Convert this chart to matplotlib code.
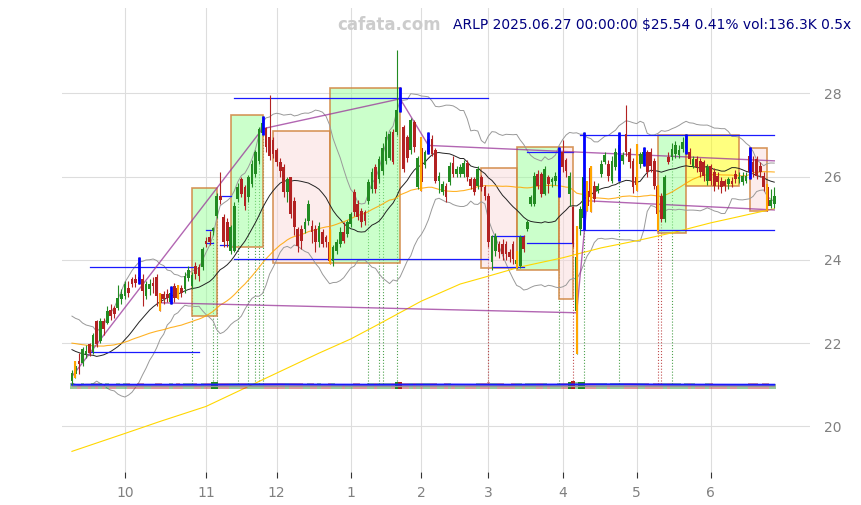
import numpy as np
import pandas as pd
import matplotlib
matplotlib.use("Agg")
import matplotlib.pyplot as plt
from matplotlib.patches import Rectangle

# daily bars ARLP, 2024-09-10 .. 2025-06-27 (x = trading day index)
opens = [21.08, 21.25, 21.57, 21.53, 21.73, 21.97, 21.79, 22.53, 22.05, 22.53,
         22.49, 22.79, 22.84, 22.85, 23.05, 23.13, 23.33, 23.53, 23.55, 23.60,
         23.53, 23.13, 23.29, 23.45, 23.59, 23.19, 23.17, 23.19, 23.00, 23.37,
         23.33, 23.33, 23.29, 23.57, 23.37, 23.86, 23.82, 23.82, 24.46, 24.55,
         24.70, 25.06, 25.54, 25.02, 24.90, 24.22, 24.22, 25.46, 25.94, 25.74,
         25.50, 25.82, 26.06, 26.38, 27.05, 27.17, 26.95, 26.87, 26.63, 26.35,
         26.22, 25.62, 25.98, 25.42, 24.74, 24.74, 24.74, 24.94, 24.82, 24.74,
         24.42, 24.66, 24.54, 24.42, 23.97, 24.22, 24.38, 24.66, 24.62, 24.86,
         25.62, 25.34, 25.18, 25.14, 25.42, 25.70, 26.22, 25.94, 26.14, 26.38,
         26.46, 27.07, 27.07, 27.85, 27.19, 26.95, 26.63, 27.31, 25.74, 26.70,
         26.27, 26.60, 26.91, 26.63, 25.90, 25.62, 25.78, 25.86, 26.34, 26.06,
         26.06, 26.06, 26.34, 25.94, 25.94, 25.78, 26.00, 25.74, 25.54, 23.94,
         24.22, 24.38, 24.38, 24.38, 24.18, 24.38, 23.90, 23.86, 24.54, 24.74,
         25.34, 25.34, 26.06, 26.06, 25.58, 25.98, 25.86, 25.90, 25.70, 26.59,
         26.39, 25.58, 25.26, 22.77, 24.74, 25.00, 25.66, 26.20, 25.78, 25.66,
         26.06, 26.35, 26.30, 25.90, 26.22, 26.40, 26.38, 27.03, 26.59, 26.38,
         26.00, 26.30, 26.30, 26.59, 26.59, 26.38, 25.78, 25.54, 24.98, 26.47,
         26.47, 26.55, 26.51, 26.67, 26.70, 26.59, 26.26, 26.43, 26.38, 26.35,
         25.90, 26.26, 26.10, 26.02, 25.90, 25.90, 25.82, 25.90, 26.06, 25.94,
         25.86, 25.90, 26.50, 26.35, 26.43, 26.26, 26.02, 25.74, 25.30, 25.35]
highs = [21.35, 21.57, 21.77, 21.90, 21.95, 22.00, 22.25, 22.55, 22.60, 22.60,
         22.90, 22.95, 22.90, 23.40, 23.30, 23.50, 23.50, 23.60, 23.65, 24.06,
         23.65, 23.50, 23.55, 23.60, 23.65, 23.21, 23.25, 23.30, 23.37, 23.45,
         23.40, 23.40, 23.70, 23.85, 23.70, 23.95, 23.90, 24.30, 24.55, 24.70,
         24.80, 25.60, 26.10, 25.10, 25.00, 24.85, 25.40, 25.85, 26.00, 25.80,
         26.05, 26.40, 26.65, 27.20, 27.45, 27.20, 27.95, 26.95, 26.70, 26.45,
         26.30, 26.00, 26.00, 25.50, 24.80, 24.85, 25.00, 25.45, 24.95, 24.85,
         24.90, 24.75, 24.60, 24.75, 24.35, 24.50, 24.80, 24.90, 24.95, 25.15,
         25.70, 25.45, 25.25, 25.20, 25.95, 26.20, 26.30, 26.50, 26.80, 27.10,
         27.10, 27.15, 29.04, 28.15, 27.25, 27.00, 27.40, 27.35, 26.50, 26.95,
         26.65, 27.07, 27.00, 26.70, 26.10, 25.90, 25.85, 26.35, 26.50, 26.25,
         26.30, 26.40, 26.40, 26.00, 26.00, 26.25, 26.05, 25.80, 25.60, 24.60,
         24.65, 24.45, 24.50, 24.45, 24.25, 24.45, 24.22, 24.60, 24.60, 24.95,
         25.55, 26.10, 26.15, 26.10, 26.25, 26.05, 26.00, 26.10, 26.71, 26.87,
         26.45, 26.10, 25.30, 24.82, 25.30, 27.07, 25.90, 26.26, 25.90, 25.85,
         26.40, 26.60, 26.40, 26.50, 26.70, 27.07, 26.60, 27.71, 26.70, 26.45,
         26.79, 26.60, 26.71, 26.65, 26.70, 26.45, 25.80, 25.60, 26.05, 26.60,
         26.80, 26.85, 26.75, 26.95, 27.03, 26.70, 26.50, 26.50, 26.45, 26.40,
         26.30, 26.30, 26.20, 26.10, 26.00, 25.95, 26.00, 26.00, 26.15, 26.10,
         26.10, 26.10, 26.71, 26.50, 26.50, 26.35, 26.10, 25.82, 25.70, 25.75]
lows = [21.00, 21.16, 21.25, 21.45, 21.65, 21.70, 21.75, 21.90, 22.00, 22.20,
        22.45, 22.55, 22.60, 22.80, 22.95, 23.05, 23.10, 23.35, 23.35, 23.41,
        22.90, 23.05, 23.15, 23.20, 22.90, 22.77, 22.95, 23.00, 22.93, 23.00,
        23.05, 23.10, 23.20, 23.50, 23.30, 23.55, 23.50, 23.75, 24.30, 24.35,
        24.60, 25.00, 25.35, 24.30, 24.30, 24.15, 24.20, 25.40, 25.50, 25.20,
        25.40, 25.75, 26.00, 26.30, 27.00, 26.60, 26.40, 26.45, 26.25, 26.00,
        25.50, 25.40, 25.00, 24.60, 24.20, 24.26, 24.65, 24.85, 24.40, 24.20,
        24.30, 24.30, 24.30, 23.90, 23.85, 24.15, 24.30, 24.40, 24.55, 24.80,
        25.05, 24.95, 24.80, 24.85, 25.35, 25.60, 25.60, 25.85, 26.05, 26.30,
        26.40, 26.30, 27.00, 27.55, 26.10, 26.35, 26.55, 26.60, 25.70, 25.66,
        26.20, 26.55, 26.50, 25.85, 25.60, 25.55, 25.40, 25.80, 26.00, 26.00,
        26.00, 26.00, 25.90, 25.70, 25.55, 25.70, 25.65, 25.45, 24.30, 23.75,
        24.10, 24.05, 24.00, 24.00, 23.95, 23.90, 23.80, 23.80, 24.20, 24.70,
        25.30, 25.30, 25.70, 25.50, 25.55, 25.60, 25.75, 25.80, 25.50, 26.10,
        26.00, 25.30, 24.30, 21.73, 24.60, 24.72, 25.18, 25.14, 25.40, 25.60,
        26.00, 26.30, 25.90, 25.85, 26.15, 25.90, 26.30, 26.50, 26.20, 25.60,
        25.66, 26.20, 26.26, 26.00, 26.10, 25.70, 24.70, 24.90, 24.90, 26.30,
        26.40, 26.45, 26.45, 26.60, 26.55, 26.30, 26.20, 26.10, 26.00, 25.90,
        25.80, 25.80, 25.65, 25.70, 25.60, 25.65, 25.70, 25.75, 25.85, 25.85,
        25.80, 25.85, 25.94, 26.00, 25.95, 26.00, 25.65, 25.18, 25.25, 25.25]
closes = [21.29, 21.45, 21.49, 21.85, 21.82, 21.77, 22.19, 21.97, 22.53, 22.33,
          22.77, 22.65, 22.71, 23.09, 23.17, 23.41, 23.21, 23.41, 23.45, 23.50,
          23.25, 23.41, 23.41, 23.37, 23.13, 22.97, 23.05, 23.09, 23.20, 23.09,
          23.09, 23.21, 23.61, 23.75, 23.64, 23.65, 23.62, 24.26, 24.38, 24.44,
          24.76, 25.54, 25.44, 24.42, 24.46, 24.78, 25.30, 25.74, 25.58, 25.30,
          25.98, 26.30, 26.59, 27.15, 27.30, 26.71, 26.50, 26.55, 26.35, 26.14,
          25.62, 25.94, 25.10, 24.78, 24.34, 24.46, 24.90, 25.34, 24.66, 24.42,
          24.82, 24.38, 24.42, 23.97, 24.30, 24.42, 24.66, 24.46, 24.90, 25.10,
          25.14, 25.02, 24.90, 24.94, 25.86, 26.10, 25.70, 26.42, 26.70, 26.95,
          27.03, 26.35, 27.60, 27.75, 26.19, 26.46, 27.35, 26.71, 26.46, 25.86,
          26.59, 26.90, 26.55, 25.90, 26.02, 25.82, 25.50, 26.26, 26.06, 26.18,
          26.22, 26.34, 25.98, 25.78, 25.62, 26.18, 25.74, 25.54, 24.42, 24.58,
          24.58, 24.18, 24.14, 24.14, 24.06, 24.02, 24.00, 24.54, 24.26, 24.90,
          25.50, 26.02, 25.78, 25.58, 26.18, 25.82, 25.94, 26.02, 26.50, 26.22,
          26.14, 26.02, 24.38, 24.06, 25.22, 26.00, 25.30, 25.50, 25.46, 25.78,
          26.30, 26.51, 26.02, 26.38, 26.59, 26.75, 26.51, 26.59, 26.35, 25.74,
          25.80, 26.55, 26.60, 26.10, 26.26, 25.78, 25.10, 24.98, 25.98, 26.35,
          26.67, 26.75, 26.63, 26.83, 26.90, 26.43, 26.43, 26.22, 26.10, 26.02,
          26.22, 25.90, 25.78, 25.86, 25.74, 25.78, 25.94, 25.82, 25.94, 26.00,
          26.02, 26.02, 26.10, 26.10, 26.02, 26.10, 25.74, 25.30, 25.44, 25.54]
volumes = [180, 160, 150, 200, 170, 150, 210, 190, 230, 170, 200, 160, 150, 190, 170, 210, 180, 160, 150, 220,
           200, 170, 160, 150, 210, 230, 160, 150, 180, 170, 200, 150, 180, 190, 260, 200, 170, 240, 230, 190,
           420, 450, 260, 250, 200, 190, 230, 260, 200, 190, 270, 220, 260, 250, 280, 230, 250, 200, 190, 180,
           230, 180, 250, 240, 210, 190, 170, 200, 180, 170, 190, 160, 150, 260, 180, 160, 170, 150, 140, 170,
           220, 180, 170, 160, 250, 200, 210, 260, 250, 230, 220, 210, 440, 410, 260, 220, 200, 210, 190, 240,
           200, 190, 180, 210, 170, 160, 180, 190, 170, 150, 150, 160, 170, 160, 170, 180, 190, 200, 320, 260,
           210, 180, 190, 170, 160, 180, 200, 210, 170, 190, 200, 230, 190, 180, 200, 170, 160, 170, 290, 210,
           220, 430, 470, 380, 430, 460, 280, 250, 220, 200, 190, 180, 170, 200, 190, 260, 180, 220, 200, 190,
           240, 200, 180, 190, 170, 200, 300, 290, 230, 200, 260, 190, 180, 170, 200, 190, 180, 170, 160, 170,
           180, 190, 170, 160, 170, 150, 160, 150, 170, 160, 150, 160, 200, 190, 180, 170, 190, 200, 150, 136]
# closes before the first shown bar (only feed the moving averages)
warmup_closes = [22.0, 22.2, 22.4, 22.3, 22.5, 22.2, 22.4, 22.6, 22.3, 22.1,
                 22.4, 22.2, 22.0, 22.3, 22.1, 21.8, 21.6, 21.9, 22.1, 21.7,
                 21.8, 22.0, 22.2, 21.9, 22.0, 22.1, 21.8, 22.0, 22.2, 22.0,
                 22.3, 22.1, 22.4, 22.2, 22.0, 22.3, 22.5, 22.2, 21.9, 22.0,
                 21.8, 21.6, 21.9, 21.7, 21.5, 21.4, 21.3, 21.2, 21.3]
# long moving average
ma200_idx = [0, 15, 25, 38, 50, 58, 70, 79, 87, 99, 110, 118, 127, 139, 150, 160, 170, 181, 189, 199]
ma200_val = [19.40, 19.83, 20.12, 20.48, 20.96, 21.28, 21.76, 22.10, 22.46, 23.01,
             23.42, 23.61, 23.83, 24.05, 24.29, 24.46, 24.65, 24.89, 25.04, 25.23]

month_idx = [15, 38, 58, 79, 99, 118, 139, 160, 181]
month_labels = ['10', '11', '12', '1', '2', '3', '4', '5', '6']

box_start = [34, 45, 57, 73, 116, 126, 138, 166, 174, 192]
box_end = [41, 54, 73, 93, 126, 138, 142, 174, 189, 197]
box_low = [22.65, 24.31, 23.92, 23.92, 23.80, 23.75, 23.05, 24.64, 25.78, 25.18]
box_high = [25.73, 27.47, 27.09, 28.14, 26.21, 26.71, 26.71, 27.01, 27.01, 26.69]
box_kind = ['up', 'up', 'down', 'up', 'down', 'up', 'down', 'up', 'flat', 'down']

level_start = [5, 5, 38, 38, 42, 42, 46, 46, 119, 119, 129, 129, 144, 144]
level_end = [36, 35, 40, 40, 45, 45, 118, 118, 128, 128, 142, 142, 199, 199]
level_price = [21.78, 23.83, 24.72, 24.40, 25.53, 24.36, 27.88, 24.03,
               24.58, 23.83, 24.40, 26.60, 27.01, 24.72]

trend_i0 = [0, 54, 93, 101, 25, 143, 146]
trend_p0 = [21.20, 27.15, 27.87, 26.75, 22.97, 22.73, 25.42]
trend_i1 = [54, 93, 101, 199, 143, 146, 199]
trend_p1 = [27.15, 27.87, 26.75, 26.38, 22.73, 25.42, 25.20]

pivot_idx = [19, 28, 54, 93, 101, 138, 145, 155, 162, 174, 192]
gap_idx = [1, 25, 30, 73, 99, 126, 143, 146, 147, 160, 166, 197]
spike_idx = [34, 40, 41, 47, 50, 52, 53, 54, 84, 87, 88, 92, 118, 138, 142, 145, 155, 166, 167, 170]

o = np.array(opens)
h = np.array(highs)
l = np.array(lows)
c = np.array(closes)
v = np.array(volumes, dtype=float)
idx = np.arange(len(c))
up = c >= o
GREEN = '#228b22'
RED = '#b22222'
col = np.where(up, GREEN, RED)

full = pd.Series(warmup_closes + closes)
nw = len(warmup_closes)
mid = full.rolling(20).mean().values[nw:]
sd = full.rolling(20).std(ddof=0).values[nw:]
ma50 = full.rolling(50).mean().values[nw:]

fig = plt.figure(figsize=(8.62, 5.05), dpi=100)
ax = fig.add_axes([0.072, 0.065, 0.868, 0.919])
ax.set_xlim(-2.8, 209.2)
ax.set_ylim(18.9, 30.05)

# signal bars: dotted drop lines down to the volume strip
vol_base = 20.91
for i in spike_idx:
    ax.vlines(i, vol_base + 0.1, l[i], colors=col[i], linestyles=':', lw=0.8, alpha=0.8, zorder=1)

fills = {'up': (0.6, 1.0, 0.6, 0.5), 'down': (0.98, 0.86, 0.86, 0.5), 'flat': (1.0, 1.0, 0.0, 0.5)}
for s, e, lo, hi, k in zip(box_start, box_end, box_low, box_high, box_kind):
    ax.add_patch(Rectangle((s, lo), e - s, hi - lo, facecolor=fills[k],
                           edgecolor=(0.82, 0.52, 0.25, 0.85), lw=1.2, zorder=2))

# moving averages / bands
ax.plot(idx, mid + 2 * sd, color='#999999', lw=0.7, zorder=3)
ax.plot(idx, mid - 2 * sd, color='#999999', lw=0.7, zorder=3)
ax.plot(idx, mid, color='#222222', lw=0.7, zorder=3)
ax.plot(idx, ma50, color='#ffa500', lw=0.8, alpha=0.85, zorder=3)
ax.plot(ma200_idx, ma200_val, color='#ffd700', lw=0.8, zorder=3)

# volume strip
vmax = v.max()
vh = 0.09 + 0.08 * v / vmax
light = v < 400
vma = pd.Series(v).rolling(20, min_periods=1).mean().values
ax.bar(idx[light], vh[light], bottom=vol_base, width=1.0, color=col[light], alpha=0.45, zorder=3)
ax.bar(idx[~light], vh[~light], bottom=vol_base, width=1.0, color=col[~light], zorder=3)
ax.plot(idx, np.full(len(idx), vol_base + 0.055), color='#999999', lw=0.9, zorder=4)
ax.plot(idx, vol_base + 0.075 + 0.02 * vma / vma.mean(), color='#1a1aff', lw=1.4, zorder=4)

# levels and trend lines
for s, e, p in zip(level_start, level_end, level_price):
    ax.plot([s, e], [p, p], color='#1a1aff', lw=0.9, zorder=4)
for a0, b0, a1, b1 in zip(trend_i0, trend_p0, trend_i1, trend_p1):
    ax.plot([a0, a1], [b0, b1], color='#993399', lw=1.0, alpha=0.75, zorder=4)

# candles
ax.vlines(idx, l, h, colors=col, lw=0.8, zorder=5)
body = np.maximum(np.abs(c - o), 0.02)
ax.bar(idx, body, bottom=np.minimum(o, c), width=0.78, color=col, zorder=6)

ax.vlines(gap_idx, l[gap_idx], h[gap_idx], colors='#ffa500', lw=1.5, zorder=7)
ax.vlines(pivot_idx, l[pivot_idx], h[pivot_idx], colors='#0000ff', lw=2.0, zorder=7)

ax.set_xticks(month_idx)
ax.set_xticklabels(month_labels)
ax.set_yticks([20, 22, 24, 26, 28])
ax.yaxis.tick_right()
ax.tick_params(axis='x', colors='#808080', labelsize=10, length=4, pad=6)
ax.tick_params(axis='x', color='#333333')
ax.tick_params(axis='y', colors='#808080', labelsize=10, length=0, pad=10)
ax.grid(True, color='#dddddd', lw=0.8)
ax.set_axisbelow(True)
for sp in ax.spines.values():
    sp.set_visible(False)

fig.text(0.451, 0.95, 'cafata.com', ha='center', va='center', fontsize=12,
         fontweight='bold', color='#cccccc')
fig.text(0.988, 0.95, 'ARLP 2025.06.27 00:00:00 $25.54 0.41% vol:136.3K 0.5x',
         ha='right', va='center', fontsize=10, color='#000080')

fig.savefig('out.png', dpi=100)
